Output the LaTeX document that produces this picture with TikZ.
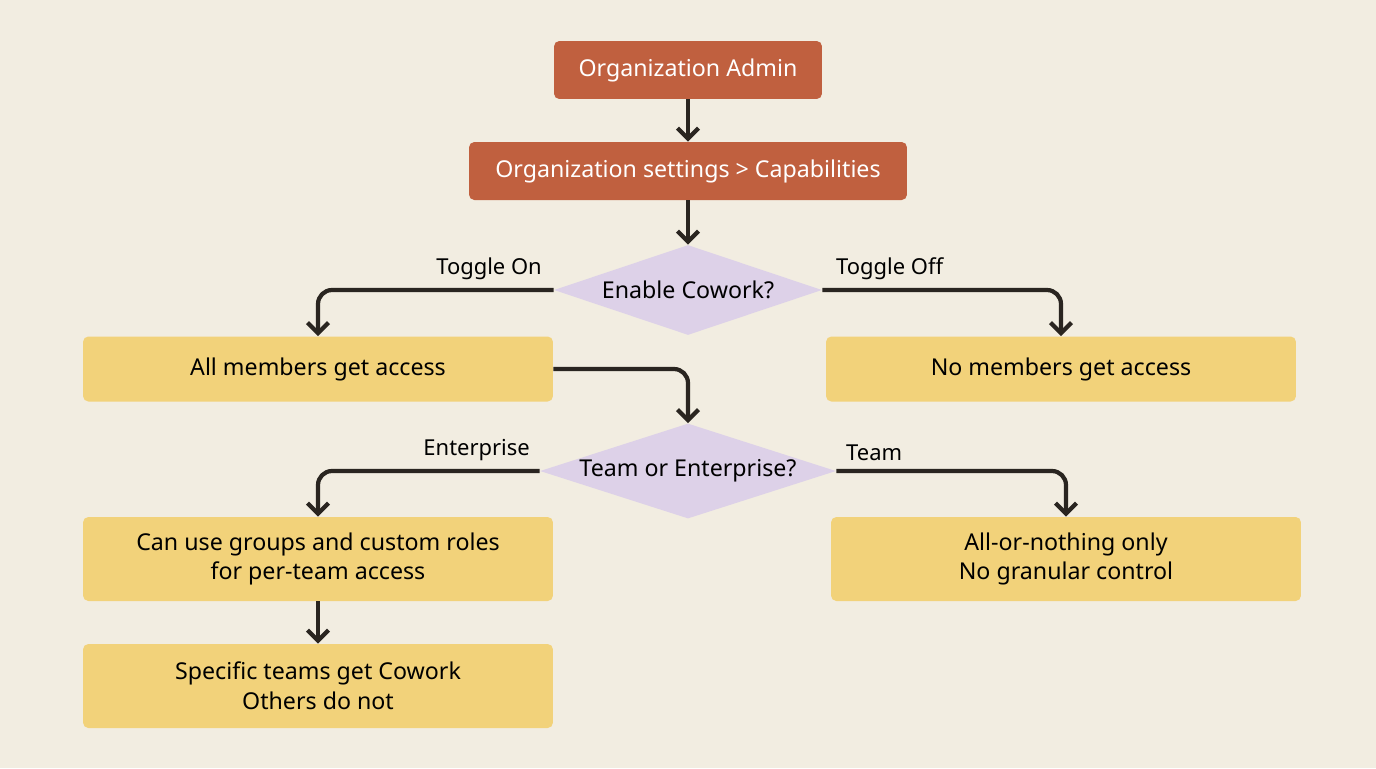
\documentclass[tikz,border=0pt]{standalone}
\usepackage{fontspec}
\setmainfont{Noto Sans}
\usetikzlibrary{shapes.geometric,arrows.meta}
\definecolor{bgcol}{HTML}{F2EDE1}
\definecolor{rust}{HTML}{C0603F}
\definecolor{sand}{HTML}{F2D27A}
\definecolor{lilac}{HTML}{DDD1E8}
\definecolor{ink}{HTML}{2A2520}
\tikzset{
  admin/.style={fill=rust,rounded corners=3pt,text=white,minimum height=1.16cm,inner sep=0pt},
  result/.style={fill=sand,rounded corners=3pt,text=black,minimum width=9.4cm,inner sep=0pt,align=center},
  choice/.style={diamond,fill=lilac,aspect=3,inner sep=0pt,text=black},
  flow/.style={line width=2.4pt,draw=ink,rounded corners=8pt,-{Straight Barb[length=6pt,width=12pt]}},
  tag/.style={font=\fontsize{12.5}{14}\selectfont,text=black}
}
\begin{document}
\begin{tikzpicture}[x=0.02cm,y=-0.02cm,font=\fontsize{13.2}{17}\selectfont]
  \fill[bgcol] (0,0) rectangle (1376,768);
  \node[admin,minimum width=5.36cm] (admin) at (688,70) {Organization Admin};
  \node[admin,minimum width=8.76cm] (settings) at (688,171) {Organization settings > Capabilities};
  \node[choice,minimum width=5.36cm,minimum height=1.8cm] (cowork) at (688,290) {Enable Cowork?};
  \node[result,minimum height=1.3cm] (all) at (318,369) {All members get access};
  \node[result,minimum height=1.3cm] (none) at (1061,369) {No members get access};
  \node[choice,minimum width=5.92cm,minimum height=1.8cm] (plan) at (688,471) {Team or Enterprise?};
  \node[result,minimum height=1.68cm] (groups) at (318,559) {Can use groups and custom roles\\for per-team access};
  \node[result,minimum height=1.68cm] (granular) at (1066,559) {All-or-nothing only\\No granular control};
  \node[result,minimum height=1.68cm] (specific) at (318,686) {Specific teams get Cowork\\Others do not};

  \draw[flow] (admin) -- (settings);
  \draw[flow] (settings) -- (cowork);
  \draw[flow] (cowork.west) -| (all.north);
  \node[tag,anchor=south east] (ton) at (548,286) {Toggle On};
  \draw[flow] (cowork.east) -| (none.north);
  \node[tag,anchor=south west] (toff) at (830,286) {Toggle Off};
  \draw[flow] (all.east) -| (plan.north);
  \draw[flow] (plan.west) -| (groups.north);
  \node[tag,anchor=south east] (ent) at (536,467) {Enterprise};
  \draw[flow] (plan.east) -| (granular.north);
  \node[tag,anchor=south west] (team) at (840,467) {Team};
  \draw[flow] (groups) -- (specific);
\end{tikzpicture}
\end{document}
